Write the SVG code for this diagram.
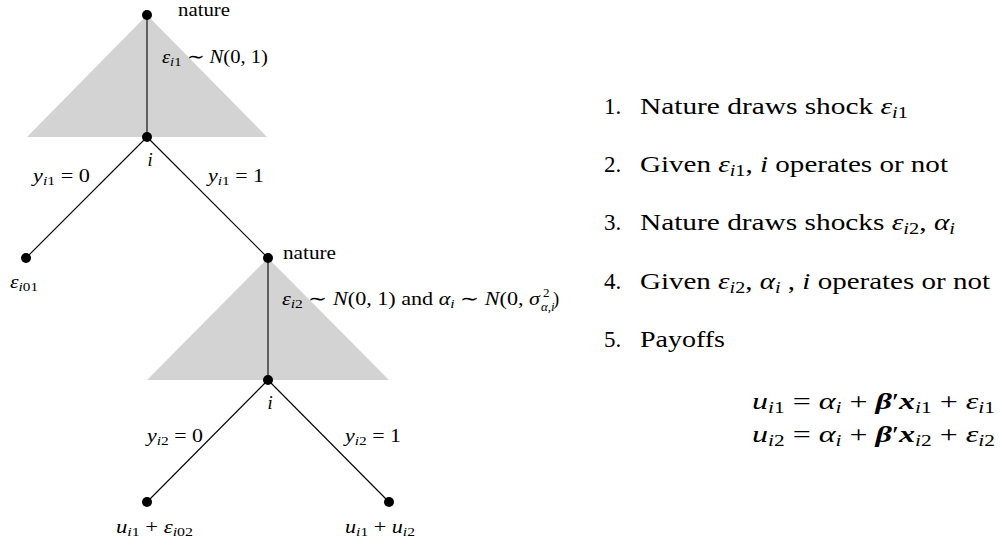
<svg xmlns="http://www.w3.org/2000/svg" width="1000" height="544" viewBox="0 0 1000 544">
<style>
.tri{fill:#d3d3d3;stroke:none}
.edge{stroke:#000;stroke-width:1.1;fill:none}
.dot{fill:#000}
text{font-family:"Liberation Serif","Times New Roman",serif;fill:#000}
.t{font-size:18.5px}
.r{font-size:23px}
.eq{font-size:24px}
.it{font-style:italic}
.bi{font-style:italic;font-weight:bold}
.s{font-size:13px}
.rs{font-size:16px}
</style>
<rect width="1000" height="544" fill="#fff"/>
<g id="shading">
<polygon class="tri" points="147,15 27,137 267,137"/>
<polygon class="tri" points="268,258 147,380 389,380"/>
</g>
<g id="connectors">
<line class="edge" x1="147" y1="15" x2="147" y2="137"/>
<line class="edge" x1="147" y1="137" x2="26" y2="258"/>
<line class="edge" x1="147" y1="137" x2="268" y2="258"/>
<line class="edge" x1="268" y1="258" x2="268" y2="380"/>
<line class="edge" x1="268" y1="380" x2="147" y2="502"/>
<line class="edge" x1="268" y1="380" x2="389" y2="502"/>
</g>
<g id="n1"><circle class="dot" cx="147" cy="15" r="5"/><text class="t" x="178" y="16" textLength="52" lengthAdjust="spacingAndGlyphs">nature</text></g>
<g id="n2"><circle class="dot" cx="147" cy="137" r="5"/><text class="t it" x="150" y="166" text-anchor="middle">i</text></g>
<g id="n3"><circle class="dot" cx="26" cy="258" r="5"/><text class="t" x="10" y="288" textLength="28" lengthAdjust="spacingAndGlyphs"><tspan class="it">ε</tspan><tspan class="s" dy="3"><tspan class="it">i</tspan>01</tspan></text></g>
<g id="n4"><circle class="dot" cx="268" cy="258" r="5"/><text class="t" x="283" y="259" textLength="53" lengthAdjust="spacingAndGlyphs">nature</text></g>
<g id="n5"><circle class="dot" cx="268" cy="380" r="5"/><text class="t it" x="270" y="409" text-anchor="middle">i</text></g>
<g id="n6"><circle class="dot" cx="147" cy="502" r="5"/><text class="t" x="116" y="533" textLength="77" lengthAdjust="spacingAndGlyphs"><tspan class="it">u</tspan><tspan class="s" dy="3"><tspan class="it">i</tspan>1</tspan><tspan dy="-3"> + </tspan><tspan class="it">ε</tspan><tspan class="s" dy="3"><tspan class="it">i</tspan>02</tspan></text></g>
<g id="n7"><circle class="dot" cx="389" cy="502" r="5"/><text class="t" x="345" y="533" textLength="70" lengthAdjust="spacingAndGlyphs"><tspan class="it">u</tspan><tspan class="s" dy="3"><tspan class="it">i</tspan>1</tspan><tspan dy="-3"> + </tspan><tspan class="it">u</tspan><tspan class="s" dy="3"><tspan class="it">i</tspan>2</tspan></text></g>
<g id="edge-labels">
<text class="t" x="162" y="63" textLength="106" lengthAdjust="spacingAndGlyphs"><tspan class="it">ε</tspan><tspan class="s" dy="3"><tspan class="it">i</tspan>1</tspan><tspan dy="-3"> ∼ </tspan><tspan class="it">N</tspan>(0, 1)</text>
<text class="t" x="33" y="182" textLength="57" lengthAdjust="spacingAndGlyphs"><tspan class="it">y</tspan><tspan class="s" dy="3"><tspan class="it">i</tspan>1</tspan><tspan dy="-3"> = 0</tspan></text>
<text class="t" x="208" y="182" textLength="56" lengthAdjust="spacingAndGlyphs"><tspan class="it">y</tspan><tspan class="s" dy="3"><tspan class="it">i</tspan>1</tspan><tspan dy="-3"> = 1</tspan></text>
<text class="t" x="282" y="305" textLength="258" lengthAdjust="spacingAndGlyphs"><tspan class="it">ε</tspan><tspan class="s" dy="3"><tspan class="it">i</tspan>2</tspan><tspan dy="-3"> ∼ </tspan><tspan class="it">N</tspan>(0, 1) and <tspan class="it">α</tspan><tspan class="s it" dy="3">i</tspan><tspan dy="-3"> ∼ </tspan><tspan class="it">N</tspan>(0, <tspan class="it">σ</tspan></text>
<text class="s" x="543" y="297">2</text>
<text class="s it" x="541" y="311">α,i</text>
<text class="t" x="553" y="305">)</text>
<text class="t" x="147" y="442" textLength="56" lengthAdjust="spacingAndGlyphs"><tspan class="it">y</tspan><tspan class="s" dy="3"><tspan class="it">i</tspan>2</tspan><tspan dy="-3"> = 0</tspan></text>
<text class="t" x="345" y="442" textLength="56" lengthAdjust="spacingAndGlyphs"><tspan class="it">y</tspan><tspan class="s" dy="3"><tspan class="it">i</tspan>2</tspan><tspan dy="-3"> = 1</tspan></text>
</g>
<g id="steps">
<text class="r" x="604" y="114">1.</text>
<text class="r" x="640" y="114" textLength="268" lengthAdjust="spacingAndGlyphs">Nature draws shock <tspan class="it">ε</tspan><tspan class="rs" dy="4"><tspan class="it">i</tspan>1</tspan></text>
<text class="r" x="604" y="172">2.</text>
<text class="r" x="640" y="172" textLength="308" lengthAdjust="spacingAndGlyphs">Given <tspan class="it">ε</tspan><tspan class="rs" dy="4"><tspan class="it">i</tspan>1</tspan><tspan dy="-4">, </tspan><tspan class="it">i</tspan> operates or not</text>
<text class="r" x="604" y="230">3.</text>
<text class="r" x="640" y="230" textLength="315" lengthAdjust="spacingAndGlyphs">Nature draws shocks <tspan class="it">ε</tspan><tspan class="rs" dy="4"><tspan class="it">i</tspan>2</tspan><tspan dy="-4">, </tspan><tspan class="it">α</tspan><tspan class="rs it" dy="4">i</tspan></text>
<text class="r" x="604" y="289">4.</text>
<text class="r" x="640" y="289" textLength="350" lengthAdjust="spacingAndGlyphs">Given <tspan class="it">ε</tspan><tspan class="rs" dy="4"><tspan class="it">i</tspan>2</tspan><tspan dy="-4">, </tspan><tspan class="it">α</tspan><tspan class="rs it" dy="4">i</tspan><tspan dy="-4"> , </tspan><tspan class="it">i</tspan> operates or not</text>
<text class="r" x="604" y="347">5.</text>
<text class="r" x="640" y="347" textLength="85" lengthAdjust="spacingAndGlyphs">Payoffs</text>
</g>
<g id="payoffs">
<text class="eq" x="752" y="409" textLength="243" lengthAdjust="spacingAndGlyphs"><tspan class="it">u</tspan><tspan class="rs" dy="4"><tspan class="it">i</tspan>1</tspan><tspan dy="-4"> = </tspan><tspan class="it">α</tspan><tspan class="rs it" dy="4">i</tspan><tspan dy="-4"> + </tspan><tspan class="bi">β</tspan>′<tspan class="bi">x</tspan><tspan class="rs" dy="4"><tspan class="it">i</tspan>1</tspan><tspan dy="-4"> + </tspan><tspan class="it">ε</tspan><tspan class="rs" dy="4"><tspan class="it">i</tspan>1</tspan></text>
<text class="eq" x="752" y="442" textLength="243" lengthAdjust="spacingAndGlyphs"><tspan class="it">u</tspan><tspan class="rs" dy="4"><tspan class="it">i</tspan>2</tspan><tspan dy="-4"> = </tspan><tspan class="it">α</tspan><tspan class="rs it" dy="4">i</tspan><tspan dy="-4"> + </tspan><tspan class="bi">β</tspan>′<tspan class="bi">x</tspan><tspan class="rs" dy="4"><tspan class="it">i</tspan>2</tspan><tspan dy="-4"> + </tspan><tspan class="it">ε</tspan><tspan class="rs" dy="4"><tspan class="it">i</tspan>2</tspan></text>
</g>
</svg>
